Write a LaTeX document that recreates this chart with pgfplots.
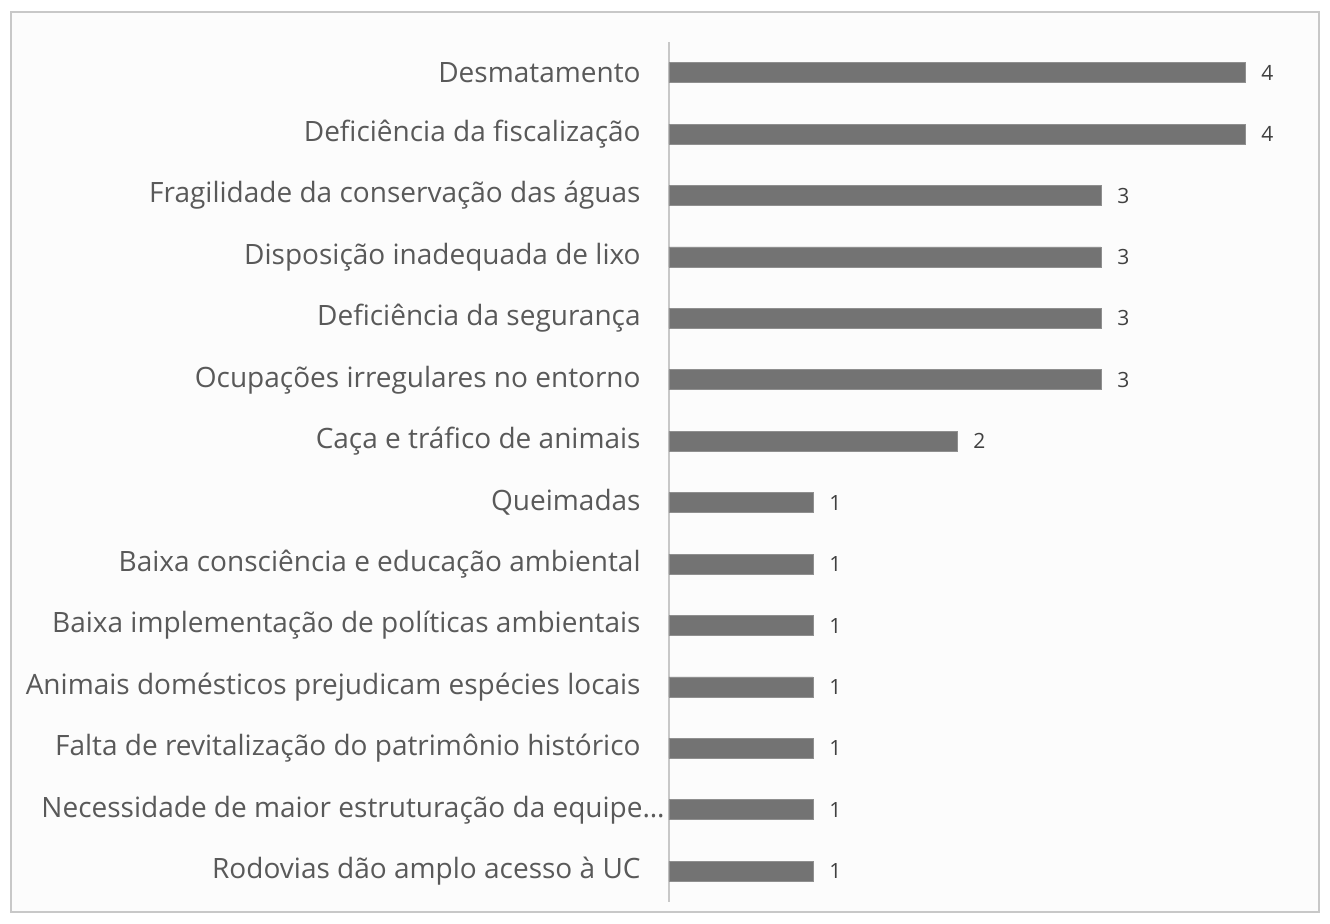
\documentclass[border=0pt]{standalone}
\usepackage{pgfplots}
\pgfplotsset{compat=1.18}
\usepackage{fontspec}
\setmainfont{Open Sans}
\definecolor{barc}{RGB}{115,115,115}
\definecolor{bordc}{RGB}{200,200,200}
\definecolor{bgc}{RGB}{252,252,252}
\definecolor{axc}{RGB}{200,200,200}
\definecolor{labc}{RGB}{89,89,89}
\definecolor{valc}{RGB}{64,64,64}
\begin{document}
\begin{tikzpicture}[x=1pt,y=1pt]
\useasboundingbox (0,0) rectangle (665,462);
\draw[color=bordc, line width=1pt, fill=bgc] (5.5,6) rectangle (659.5,456);
\begin{axis}[
  at={(334.5pt,11pt)}, anchor=south west,
  scale only axis, width=324pt, height=430pt,
  xmin=0, xmax=4.5, ymin=-0.5, ymax=13.5,
  xbar, bar width=10pt,
  axis x line=none, axis y line*=left,
  axis line style={draw=axc, line width=0.8pt},
  ytick={0,...,13},
  yticklabels={Rodovias dão amplo acesso à UC,
    {Necessidade de maior estruturação da equipe…\kern-12pt},
    Falta de revitalização do patrimônio histórico,
    Animais domésticos prejudicam espécies locais,
    Baixa implementação de políticas ambientais,
    Baixa consciência e educação ambiental,
    Queimadas,
    Caça e tráfico de animais,
    Ocupações irregulares no entorno,
    Deficiência da segurança,
    Disposição inadequada de lixo,
    Fragilidade da conservação das águas,
    Deficiência da fiscalização,
    Desmatamento},
  major tick length=0pt,
  ytick style={draw=none},
  y tick label style={font=\fontsize{14}{16}\selectfont, color=labc, anchor=east, inner xsep=0pt, xshift=-14pt},
  /pgf/number format/assume math mode=true,
  nodes near coords,
  nodes near coords style={font=\fontsize{10.5}{12}\selectfont, color=valc, anchor=west, inner xsep=0pt, xshift=8pt},
  clip=false,
]
\addplot[fill=barc, draw=barc!80!white, line width=0.4pt] coordinates {
(1,0) (1,1) (1,2) (1,3) (1,4) (1,5) (1,6) (2,7) (3,8) (3,9) (3,10) (3,11) (4,12) (4,13)};
\end{axis}
\end{tikzpicture}
\end{document}
